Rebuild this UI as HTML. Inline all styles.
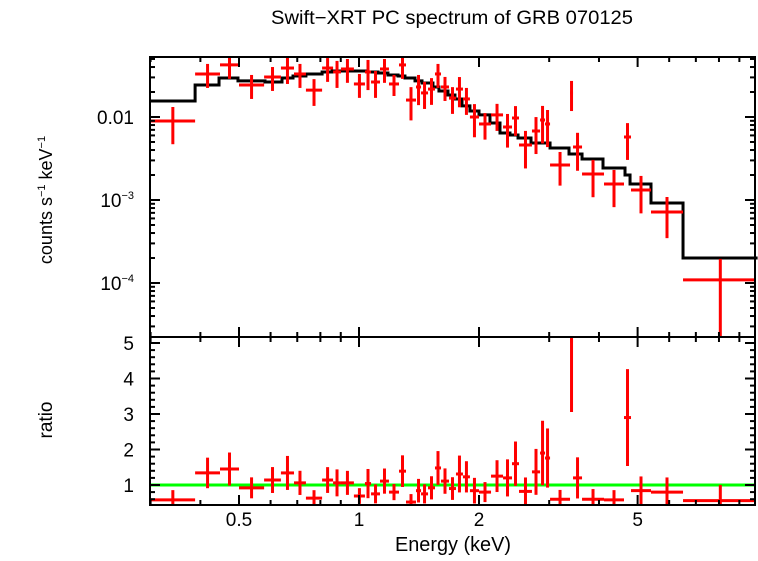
<!DOCTYPE html>
<html><head><meta charset="utf-8"><style>
body{margin:0;background:#fff;}
svg text{font-family:"Liberation Sans",sans-serif;fill:#000;}
</style></head><body>
<svg id="c" width="758" height="556" viewBox="0 0 758 556" xmlns="http://www.w3.org/2000/svg">
<text x="452" y="24" font-size="19" text-anchor="middle" textLength="362" lengthAdjust="spacingAndGlyphs">Swift−XRT PC spectrum of GRB 070125</text>
<text x="453" y="551" font-size="20" text-anchor="middle" textLength="116" lengthAdjust="spacingAndGlyphs">Energy (keV)</text>
<text transform="translate(52,200) rotate(-90)" font-size="18" text-anchor="middle">counts s<tspan font-size="11" dy="-7">−1</tspan><tspan dy="7"> keV</tspan><tspan font-size="11" dy="-7">−1</tspan></text>
<text transform="translate(52,420) rotate(-90)" font-size="19" text-anchor="middle">ratio</text>
<g id="g"></g>
</svg>
<script>
const binLo=[0.30,0.388,0.448,0.500,0.578,0.637,0.687,0.736,0.808,0.861,0.901,0.971,1.035,1.072,1.129,1.189,1.260,1.312,1.390,1.431,1.490,1.551,1.606,1.682,1.751,1.823,1.898,2.000,2.144,2.298,2.420,2.520,2.716,2.846,2.929,3.015,3.384,3.443,3.627,4.118,4.622,4.813,5.402,6.50];
const binHi=[0.388,0.448,0.500,0.578,0.637,0.687,0.736,0.808,0.861,0.901,0.971,1.035,1.072,1.129,1.189,1.260,1.312,1.390,1.431,1.490,1.551,1.606,1.682,1.751,1.823,1.898,2.000,2.144,2.298,2.420,2.520,2.716,2.846,2.929,3.015,3.384,3.443,3.627,4.118,4.622,4.813,5.402,6.50,10];
const flux=[0.00895,0.0330,0.0424,0.0243,0.0303,0.0389,0.0330,0.0211,0.0389,0.0349,0.0379,0.0250,0.0349,0.0264,0.0379,0.0250,0.0424,0.0160,0.0230,0.0195,0.0217,0.0330,0.0230,0.0169,0.0217,0.0165,0.0100,0.00824,0.0106,0.00758,0.00973,0.00460,0.00678,0.00920,0.00824,0.00264,0.0195,0.00435,0.00206,0.00156,0.00574,0.00132,0.000717,0.000109];
const fluxErr=[0.00425,0.0106,0.0136,0.0078,0.0097,0.0139,0.0106,0.0075,0.0124,0.0125,0.0121,0.0080,0.0138,0.0094,0.0121,0.0071,0.0136,0.0069,0.0091,0.0070,0.0077,0.0106,0.0074,0.0060,0.0086,0.0059,0.0043,0.0029,0.0038,0.0033,0.0038,0.0022,0.0032,0.0044,0.0039,0.00115,0.0077,0.0021,0.00098,0.00074,0.0027,0.00063,0.00037,0.000086];
const ratio=[0.58,1.34,1.45,0.92,1.14,1.34,1.06,0.63,1.14,1.06,1.06,0.69,1.04,0.75,1.11,0.80,1.39,0.52,0.84,0.75,0.92,1.48,1.11,0.90,1.31,1.23,0.84,0.80,1.25,1.20,1.60,0.82,1.37,1.90,1.76,0.60,5.05,1.20,0.60,0.58,2.90,0.84,0.80,0.56];
const modelEdges=[0.30,0.388,0.4455,0.497,0.581,0.641,0.683,0.736,0.808,0.856,0.994,1.053,1.116,1.182,1.253,1.304,1.382,1.439,1.533,1.587,1.672,1.741,1.813,1.898,2.0,2.131,2.258,2.392,2.506,2.701,3.015,3.364,3.627,4.094,4.649,4.786,5.402,6.50,10];
const modelVals=[0.0156,0.0243,0.0295,0.0272,0.0264,0.0295,0.0312,0.0330,0.0349,0.0358,0.0358,0.0349,0.0339,0.0321,0.0312,0.0295,0.0272,0.0257,0.0230,0.0206,0.0184,0.0165,0.0136,0.0118,0.0106,0.00847,0.00642,0.00607,0.00559,0.00486,0.00423,0.00358,0.00312,0.00243,0.0020,0.00156,0.00092,0.0002];
const xTickLabels=["0.5","1","2","5"];
const xTickVals=[0.5,1,2,5];
const ratioTickVals=[1,2,3,4,5];

const L=150,R=755,T=57,M=337,B=505;
const X=e=>359+398.6*Math.log10(e);
const Y=f=>117-83*(Math.log10(f)+2);
const YR=r=>485-35.5*(r-1);
const g=document.getElementById('g');
const NS="http://www.w3.org/2000/svg";
function mk(t,a){const e=document.createElementNS(NS,t);for(const k in a)e.setAttribute(k,a[k]);g.appendChild(e);return e;}
function ln(x1,y1,x2,y2,c,w){return mk('line',{x1,y1,x2,y2,stroke:c,'stroke-width':w});}
const clip=(v,a,b)=>Math.max(a,Math.min(b,v));

let d="";
for(let i=0;i<modelVals.length;i++){const y=Y(modelVals[i]);d+=(i?"L":"M")+X(modelEdges[i])+","+y+"L"+X(modelEdges[i+1])+","+y;}
let mp=mk('path',{d,fill:'none',stroke:'#000','stroke-width':3});



let gl=ln(L,YR(1),R,YR(1),'#00ff00',3);



for(let i=0;i<flux.length;i++){
  const x1=X(binLo[i]),x2=Math.min(X(binHi[i]),R),xc=X(Math.sqrt(binLo[i]*binHi[i]));
  const f=flux[i],e=fluxErr[i];
  const yc=Y(f),yt=Y(f+e),yb=f-e>0?clip(Y(f-e),T,M):M;
  let h=ln(x1,yc,x2,yc,'#ff0000',3);
  
  
  let v=ln(xc,clip(yt,T,M),xc,yb,'#ff0000',3);
  
  
  const r=ratio[i],re=r*e/f;
  const ry=YR(r);
  let h2=ln(x1,clip(ry,M,B),x2,clip(ry,M,B),'#ff0000',3);
  
  
  let v2=ln(xc,clip(YR(r+re),M,B),xc,clip(YR(r-re),M,B),'#ff0000',3);
  
  
}

[[T,M],[M,B]].forEach((p,k)=>{
  let r=mk('rect',{x:L,y:p[0],width:R-L,height:p[1]-p[0],fill:'none',stroke:'#000','stroke-width':2});
  
  
});
const minors=[0.3,0.4,0.6,0.7,0.8,0.9,3,4,6,7,8,9];
[T,M,B].forEach(y0=>{
  xTickVals.forEach(v=>{const x=X(v);if(y0!==T)ln(x,y0,x,y0-10,'#000',2);if(y0!==B)ln(x,y0,x,y0+10,'#000',2);});
  minors.forEach(v=>{const x=X(v);if(x>R)return;if(y0!==T)ln(x,y0,x,y0-5,'#000',2);if(y0!==B)ln(x,y0,x,y0+5,'#000',2);});
});
xTickVals.forEach((v,i)=>{let t=mk('text',{x:X(v),y:526,'font-size':19,'text-anchor':'middle'});t.textContent=xTickLabels[i];

});
for(let dec=-5;dec<=-2;dec++){for(let m=1;m<10;m++){const f=m*Math.pow(10,dec);const y=Y(f);if(y<T||y>M)continue;const len=m===1?10:5;ln(L,y,L+len,y,'#000',2);ln(R,y,R-len,y,'#000',2);}}
function ylab(y,html,name){const t=mk('text',{x:134,y:y+7,'font-size':19,'text-anchor':'end'});t.innerHTML=html;

}
ylab(Y(0.01),'0.01','y-tick-label-0.01');
ylab(Y(0.001),'10<tspan font-size="11" dy="-8">−3</tspan>','y-tick-label-1e-3');
ylab(Y(0.0001),'10<tspan font-size="11" dy="-8">−4</tspan>','y-tick-label-1e-4');
for(let r=0.6;r<=5.01;r+=0.2){const y=YR(r);const maj=Math.abs(r-Math.round(r))<0.01;const len=maj?10:5;ln(L,y,L+len,y,'#000',2);ln(R,y,R-len,y,'#000',2);}
ratioTickVals.forEach(v=>{let t=mk('text',{x:134,y:YR(v)+7,'font-size':19,'text-anchor':'end'});t.textContent=v;

});
</script>
</body></html>
